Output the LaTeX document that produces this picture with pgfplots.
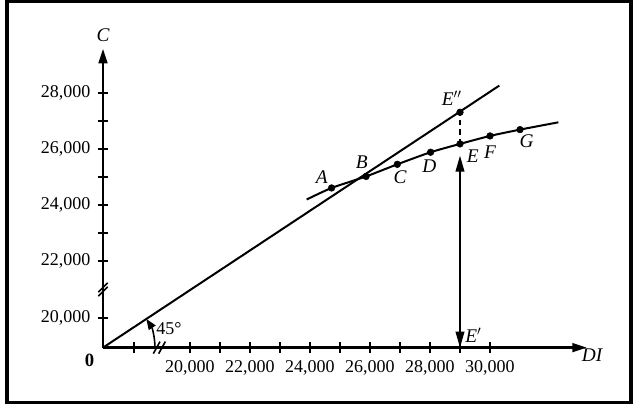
\documentclass[border=0pt]{standalone}
\usepackage{fontspec}
\setmainfont{Liberation Serif}
\usepackage{pgfplots}
\pgfplotsset{compat=1.18}
\usetikzlibrary{arrows.meta}
\begin{document}
\begin{tikzpicture}
\begin{axis}[
  x=22.5pt, y=21.09375pt,
  xmin=17.1, xmax=33.233, ymin=18.933, ymax=29.564,
  axis lines=left,
  axis line style={line width=1.8pt, -{Triangle[length=11pt,width=6.5pt]}},
  clip=false,
  tick align=center, major tick length=8pt,
  tick style={line width=1.5pt, black},
  xtick={18.133,20,21,22,23,24,25,26,27,28,29,30},
  xticklabels={,{20,000},,{22,000},,{24,000},,{26,000},,{28,000},,{30,000}},
  ytick={20,22,23,24,25,26,27,28},
  yticklabels={{20,000},{22,000},,{24,000},,{26,000},,{28,000}},
  tick label style={font=\fontsize{13.5}{15}\selectfont},
  xticklabel style={yshift=-2pt},
  yticklabel style={xshift=-2pt},
]
% 45 degree line
\addplot[line width=1.5pt, no markers] coordinates {(17.1,18.933) (30.31,28.249)};
% consumption curve
\addplot[line width=1.5pt, smooth, tension=0.4, no markers] coordinates {
(23.89,24.20) (24.72,24.61) (25.87,25.02) (26.91,25.45) (28.02,25.88) (29,26.176) (30,26.46) (31,26.684) (32.28,26.944)};
% points
\addplot[only marks, mark=*, mark size=2.5pt] coordinates {
(24.72,24.61) (25.87,25.02) (26.91,25.45) (28.02,25.88) (29,26.176) (30,26.46) (31,26.684) (29,27.30)};
% dashed E-E''
\addplot[line width=1.5pt, dash pattern=on 4pt off 3pt, no markers] coordinates {(29,26.176) (29,27.30)};
% double arrow E'-E
\addplot[line width=1.3pt, no markers, {Triangle[length=12pt,width=6.5pt]}-{Triangle[length=12pt,width=6.5pt]}] coordinates {(29,18.933) (29,25.76)};
% 45 degree arc
\draw[line width=1.2pt, -{Triangle[length=8pt,width=6pt]}] (axis cs:17.1,18.933) ++(0:39pt) arc[start angle=0, end angle=33.5, radius=39pt];
\node[font=\fontsize{13.5}{15}\selectfont] at (axis cs:19.3,19.609) {45°};
% axis breaks
\draw[line width=1.2pt] (axis cs:19,18.933) ++(-5pt,-4.5pt) -- ++(5pt,9pt);
\draw[line width=1.2pt] (axis cs:19,18.933) ++(-1pt,-4.5pt) -- ++(5pt,9pt);
\draw[line width=1.2pt] (axis cs:17.1,21) ++(-3.5pt,-5pt) -- ++(7pt,7pt);
\draw[line width=1.2pt] (axis cs:17.1,21) ++(-3.5pt,-2pt) -- ++(7pt,7pt);
% labels
\begin{scope}[every node/.style={font=\fontsize{14.5}{16}\selectfont\itshape}]
\node at (axis cs:24.39,25.013) {A};
\node at (axis cs:25.723,25.522) {B};
\node at (axis cs:27.0,24.988) {C};
\node at (axis cs:27.977,25.369) {D};
\node at (axis cs:29.423,25.724) {E};
\node at (axis cs:30.0,25.877) {F};
\node at (axis cs:31.223,26.258) {G};
\node at (axis cs:28.723,27.797) {E$''$};
\node at (axis cs:29.45,19.36) {E$'$};
\node at (axis cs:17.1,30.027) {C};
\node at (axis cs:33.4,18.649) {DI};
\end{scope}
\node[font=\fontsize{14}{15}\selectfont\bfseries, anchor=north east] at (axis cs:17.1,18.933) [xshift=-3pt,yshift=-1pt] {0};
% frame
\draw[line width=2.4pt] (axis cs:13.9,16.978) rectangle (axis cs:34.7,31.236);
\path (axis cs:13.667,16.836) rectangle (axis cs:34.8,31.271);
\end{axis}
\end{tikzpicture}
\end{document}
